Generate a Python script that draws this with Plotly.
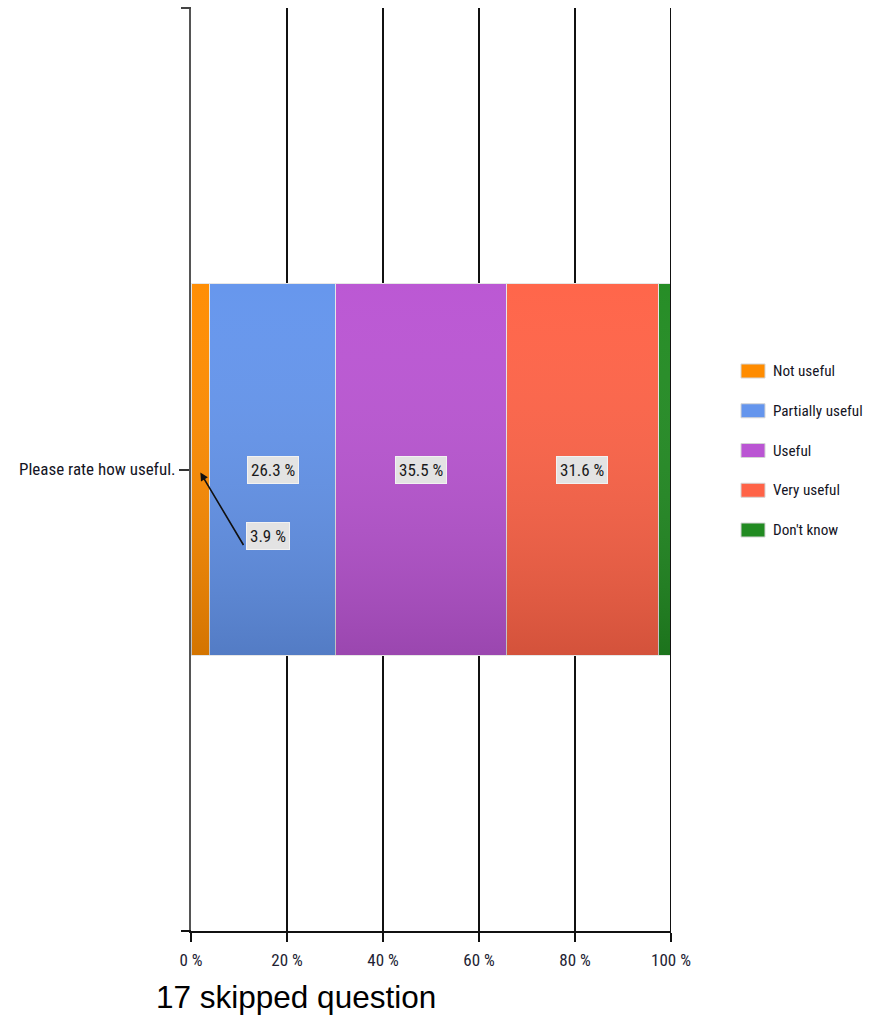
import urllib.parse
import plotly.graph_objects as go

# Survey responses (percent of respondents)
question = "Please rate how useful."
answers = ["Not useful", "Partially useful", "Useful", "Very useful", "Don't know"]
shares = [3.9, 26.3, 35.5, 31.6, 2.7]
colors = ["#FF8C00", "#6495ED", "#BA55D3", "#FF6347", "#228B22"]
x_ticks = [0, 20, 40, 60, 80, 100]
x_tick_labels = ["0 %", "20 %", "40 %", "60 %", "80 %", "100 %"]
skipped_note = "17 skipped question"

W, H = 872, 1018
ML, MR, MT, MB = 191, 201, 8, 87
PW, PH = W - ML - MR, H - MT - MB
BAR_W = 0.402
NARROW = "Roboto Condensed, Liberation Sans Narrow, Arial Narrow, sans-serif"


def px_x(p):
    return (p - ML) / PW


def px_y(p):
    return (H - MB - p) / PH


fig = go.Figure()
for name, val, col in zip(answers, shares, colors):
    fig.add_trace(go.Bar(
        y=[question], x=[val], name=name, orientation="h", width=BAR_W,
        marker=dict(color=col, line=dict(color="#E6E6E6", width=1)),
        showlegend=False, hovertemplate=name + ": %{x} %<extra></extra>",
    ))

# soft top-to-bottom shading across the stacked bar
grad_svg = (
    "<svg xmlns='http://www.w3.org/2000/svg' width='100' height='100' preserveAspectRatio='none'>"
    "<defs><linearGradient id='g' x1='0' y1='0' x2='0' y2='1'>"
    "<stop offset='0' stop-color='#ffffff' stop-opacity='0.02'/>"
    "<stop offset='1' stop-color='#000000' stop-opacity='0.17'/>"
    "</linearGradient></defs><rect width='100' height='100' fill='url(#g)'/></svg>"
)
fig.add_layout_image(dict(
    source="data:image/svg+xml;utf8," + urllib.parse.quote(grad_svg),
    xref="x", yref="paper", x=0, y=0.5 + BAR_W / 2,
    sizex=sum(shares), sizey=BAR_W, xanchor="left", yanchor="top",
    sizing="stretch", layer="above", opacity=1,
))

annotations = []
label_font = dict(family=NARROW, size=17, color="#1a1a1a")
# value labels centred in each wide segment
starts = [sum(shares[:i]) for i in range(len(shares))]
for s, v in zip(starts, shares):
    if v < 10:
        continue
    annotations.append(dict(
        x=s + v / 2, y=question, text=f"{v} %", showarrow=False, font=label_font,
        bgcolor="#E3E3E3", bordercolor="#F2F2F2", borderwidth=1, borderpad=3,
    ))

# narrow first segment: label set below with a pointer arrow
annotations.append(dict(
    x=starts[0] + shares[0] / 2, y=question, yshift=-3, text="",
    showarrow=True, axref="pixel", ayref="pixel", ax=44, ay=74,
    arrowhead=2, arrowsize=1, arrowwidth=1.6, arrowcolor="#111",
))
annotations.append(dict(
    x=16.0, y=question, yshift=-66, text=f"{shares[0]} %", showarrow=False,
    font=label_font,
    bgcolor="#E3E3E3", bordercolor="#F2F2F2", borderwidth=1, borderpad=3,
))

# legend drawn as swatches + labels
shapes = []
leg_y0, leg_dy = 371, 39.75
for i, (name, col) in enumerate(zip(answers, colors)):
    cy = leg_y0 + i * leg_dy
    shapes.append(dict(
        type="rect", xref="paper", yref="paper",
        x0=px_x(741), x1=px_x(765), y0=px_y(cy + 7), y1=px_y(cy - 7),
        fillcolor=col, line=dict(color="#D4D4D4", width=1),
    ))
    annotations.append(dict(
        xref="paper", yref="paper", x=px_x(771), y=px_y(cy),
        xanchor="left", yanchor="middle", text=name, showarrow=False,
        font=dict(family=NARROW, size=15.2, color="#141424"),
    ))

# boundary ticks on the value axis
for py in (MT, H - MB):
    shapes.append(dict(
        type="line", xref="paper", yref="paper",
        x0=px_x(181), x1=0, y0=px_y(py), y1=px_y(py),
        line=dict(color="#111" if py != MT else "#444", width=2),
    ))

# closing gridline at the 100 % edge
shapes.append(dict(
    type="line", xref="x", yref="paper", x0=x_ticks[-1], x1=x_ticks[-1], y0=0, y1=1,
    line=dict(color="#111", width=2), layer="above",
))

annotations.append(dict(
    xref="paper", yref="paper", x=px_x(154), y=px_y(997),
    xanchor="left", yanchor="middle", text=skipped_note, showarrow=False,
    font=dict(family="Liberation Sans, Arial, Helvetica, sans-serif", size=31.5, color="#000"),
))

fig.update_layout(
    width=W, height=H, barmode="stack",
    margin=dict(l=ML, r=MR, t=MT, b=MB, pad=0),
    paper_bgcolor="white", plot_bgcolor="white",
    shapes=shapes, annotations=annotations, showlegend=False,
    xaxis=dict(
        range=[0, 100], tickvals=x_ticks, ticktext=x_tick_labels,
        showgrid=True, gridcolor="#111", gridwidth=1.5,
        showline=True, linecolor="#111", linewidth=2,
        ticks="outside", ticklen=9, tickcolor="#111", tickwidth=1.5,
        zeroline=False, fixedrange=True, ticklabelstandoff=4,
        tickfont=dict(family=NARROW, size=17, color="#222232"),
    ),
    yaxis=dict(
        type="category", categoryarray=[question], range=[-0.5, 0.5],
        showgrid=False, zeroline=False,
        showline=True, linecolor="#555", linewidth=2,
        ticks="outside", ticklen=10, tickcolor="#333", tickwidth=1.5,
        tickfont=dict(family=NARROW, size=17, color="#141424"),
    ),
)

fig.write_html("out.html")
